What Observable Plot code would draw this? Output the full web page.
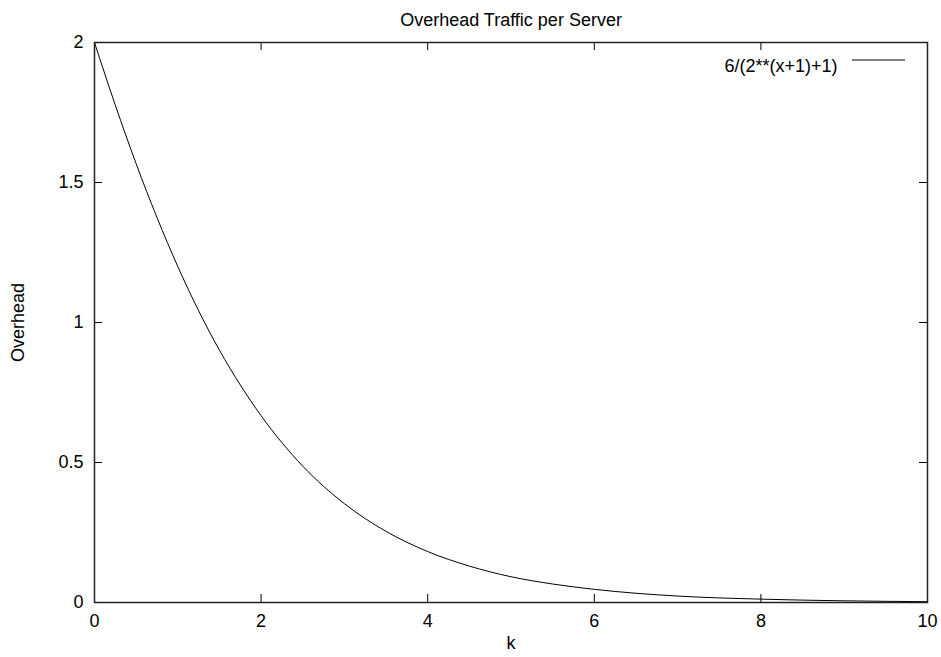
<!DOCTYPE html>
<html>
<head>
<meta charset="utf-8">
<script src="https://cdn.jsdelivr.net/npm/d3@7"></script>
<script src="https://cdn.jsdelivr.net/npm/@observablehq/plot@0.6"></script>
<style>
  html, body { margin: 0; padding: 0; background: #fff; }
</style>
</head>
<body>
<div id="chart"></div>
<script>
const title = "Overhead Traffic per Server";
const xLabel = "k";
const yLabel = "Overhead";
const seriesName = "6/(2**(x+1)+1)";
const xTicks = [0, 2, 4, 6, 8, 10];
const yTicks = [0, 0.5, 1, 1.5, 2];
const kValues = [0, 0.25, 0.5, 0.75, 1, 1.25, 1.5, 1.75, 2, 2.5, 3, 3.5, 4, 4.5, 5, 5.5, 6, 7, 8, 9, 10];
const overhead = [2.0, 1.776, 1.567, 1.375, 1.2, 1.042, 0.901, 0.777, 0.667, 0.487, 0.353, 0.254, 0.182, 0.130, 0.092, 0.066, 0.047, 0.023, 0.012, 0.006, 0.003];

const data = kValues.map((k, i) => ({k, v: overhead[i]}));

const W = 941, H = 657;
const mL = 94, mR = 14, mT = 42, mB = 55;
const frameW = W - mL - mR, frameH = H - mT - mB;
const tick = 8;
const fs = 18;

const legendLine = (index, scales, values, dims) => {
  const x2 = dims.width - dims.marginRight - 22;
  const x1 = x2 - 53;
  const y = dims.marginTop + 18;
  return d3.create("svg:line")
    .attr("x1", x1).attr("x2", x2).attr("y1", y).attr("y2", y)
    .attr("stroke", "#000").attr("stroke-width", 1).node();
};

const chart = Plot.plot({
  width: W, height: H,
  marginLeft: mL, marginRight: mR, marginTop: mT, marginBottom: mB,
  style: {fontFamily: "'Liberation Sans', Arial, Helvetica, sans-serif", fontSize: fs + "px", color: "#000", background: "#fff"},
  x: {domain: [0, 10]},
  y: {domain: [0, 2]},
  marks: [
    Plot.line(data, {x: "k", y: "v", curve: "monotone-x", stroke: "#000", strokeWidth: 1}),
    Plot.tickX(xTicks, {x: d => d, insetTop: frameH - tick, stroke: "#000"}),
    Plot.tickX(xTicks, {x: d => d, insetBottom: frameH - tick, stroke: "#000"}),
    Plot.tickY(yTicks, {y: d => d, insetRight: frameW - tick, stroke: "#000"}),
    Plot.tickY(yTicks, {y: d => d, insetLeft: frameW - tick, stroke: "#000"}),
    Plot.frame({stroke: "#222", strokeWidth: 1.5}),
    Plot.axisX({ticks: xTicks, tickSize: 0, tickPadding: 12, label: null, fontSize: fs}),
    Plot.axisY({ticks: yTicks, tickSize: 0, tickPadding: 11, label: null, fontSize: fs, tickFormat: d => String(d)}),
    Plot.text([title], {frameAnchor: "top", dy: -29, fontSize: fs}),
    Plot.text([xLabel], {frameAnchor: "bottom", dy: 46, fontSize: fs}),
    Plot.text([yLabel], {frameAnchor: "left", textAnchor: "middle", dx: -76, rotate: -90, fontSize: fs}),
    Plot.text([seriesName], {frameAnchor: "top-right", textAnchor: "end", dx: -90, dy: 17, fontSize: fs}),
    legendLine
  ]
});

document.getElementById("chart").appendChild(chart);
</script>
</body>
</html>
